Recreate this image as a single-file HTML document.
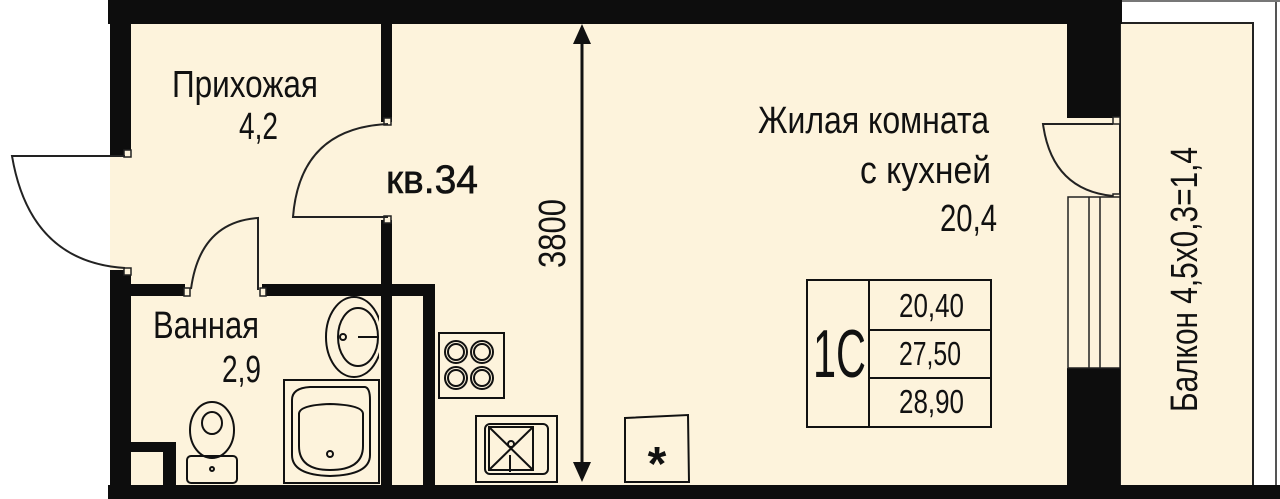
<!DOCTYPE html>
<html><head><meta charset="utf-8"><style>
html,body{margin:0;padding:0;background:#fff;}
svg{display:block;}
text{font-family:"Liberation Sans Narrow","Liberation Sans",sans-serif;fill:#111;}
</style></head><body>
<svg width="1280" height="499" viewBox="0 0 1280 499" xmlns="http://www.w3.org/2000/svg">
<defs><clipPath id="c1"><rect x="300" y="290" width="79" height="100"/></clipPath></defs>
<rect x="0" y="0" width="1280" height="499" fill="#fff"/>
<rect x="110" y="0" width="1012" height="499" fill="#fdf3dc"/>
<rect x="1120" y="0" width="160" height="499" fill="#fff"/>
<rect x="1120" y="23" width="133" height="465" fill="#fdf3dc" stroke="#222" stroke-width="2"/>
<rect x="1274" y="0" width="6" height="499" fill="#fff"/>
<line x1="1276" y1="0" x2="1276" y2="499" stroke="#555" stroke-width="2"/>
<line x1="1120" y1="1" x2="1280" y2="1" stroke="#777" stroke-width="2"/>
<g fill="#0d0d0d">
<rect x="108" y="0" width="1014" height="24"/>
<rect x="108" y="485" width="1172" height="14"/>
<rect x="110" y="0" width="21" height="155"/>
<rect x="110" y="270" width="21" height="229"/>
<rect x="1067" y="0" width="53" height="118"/>
<rect x="1067" y="368" width="53" height="120"/>
<rect x="381" y="0" width="11" height="122"/>
<rect x="381" y="220" width="11" height="270"/>
<rect x="131" y="284" width="54" height="12"/>
<rect x="262" y="284" width="173" height="12"/>
<rect x="423" y="284" width="12" height="205"/>
<rect x="131" y="442" width="45" height="10"/>
<rect x="163" y="442" width="13" height="50"/>
</g>
<g fill="#fdf3dc" stroke="#222" stroke-width="1.5">
<rect x="124" y="150" width="7" height="7"/>
<rect x="124" y="268" width="7" height="7"/>
<rect x="384" y="118" width="7" height="7"/>
<rect x="384" y="216" width="7" height="7"/>
<rect x="184" y="288" width="6" height="8"/>
<rect x="260" y="288" width="6" height="8"/>
<rect x="1113" y="117" width="7" height="7"/>
<rect x="1113" y="194" width="7" height="7"/>
</g>
<g fill="none" stroke="#222" stroke-width="2">
<path d="M125 156 L12 156 Q30 262 125 268"/>
<path d="M388 124 Q300 128 293 217 L388 217"/>
<path d="M258 290 L258 218 Q200 222 191 289"/>
<path d="M1113 124 L1043 124 Q1052 190 1113 196"/>
</g>
<g fill="#fdf3dc" stroke="#222" stroke-width="1.5">
<rect x="1068" y="197" width="52" height="171"/>
<line x1="1089" y1="197" x2="1089" y2="368"/>
<line x1="1100" y1="197" x2="1100" y2="368"/>
</g>
<line x1="582" y1="40" x2="582" y2="465" stroke="#111" stroke-width="3"/>
<polygon points="582,24 573,44 591,44" fill="#111"/>
<polygon points="582,482 573,462 591,462" fill="#111"/>
<g fill="none" stroke="#111" stroke-width="2">
<rect x="439" y="333" width="65" height="65"/>
<circle cx="456" cy="352" r="11"/><circle cx="456" cy="352" r="8"/>
<circle cx="482" cy="352" r="11"/><circle cx="482" cy="352" r="8"/>
<circle cx="456" cy="378" r="11"/><circle cx="456" cy="378" r="8"/>
<circle cx="482" cy="378" r="11"/><circle cx="482" cy="378" r="8"/>
<rect x="476" y="416" width="81" height="66"/>
<rect x="485" y="424" width="63" height="50" rx="5"/>
<rect x="489" y="427" width="44" height="43"/>
<line x1="489" y1="427" x2="533" y2="470"/><line x1="533" y1="427" x2="489" y2="470"/>
<circle cx="511" cy="444" r="3"/>
<line x1="510" y1="455" x2="510" y2="472"/>
<path d="M625 418 L688 415 L689 482 L625 482 Z"/>
<g clip-path="url(#c1)">
<ellipse cx="354" cy="337" rx="28" ry="40"/>
<ellipse cx="358" cy="337" rx="20" ry="29"/>
</g>
<line x1="358" y1="337" x2="377" y2="337"/>
<circle cx="343" cy="337" r="3"/>
<rect x="284" y="380" width="95" height="103"/>
<path d="M292 400 Q292 388 310 387 L365 387 Q370 388 370 400 L370 455 Q370 475 330 476 Q292 475 292 455 Z"/>
<path d="M299 414 Q299 405 330 404 Q363 405 363 414 L363 446 Q363 470 330 470 Q299 470 299 446 Z"/>
<circle cx="330" cy="454" r="3"/>
<ellipse cx="212" cy="430" rx="22" ry="28"/>
<ellipse cx="212" cy="423" rx="10" ry="11"/>
<rect x="187" y="456" width="50" height="27" rx="4"/>
<circle cx="212" cy="469" r="2"/>
</g>
<g fill="none" stroke="#111" stroke-width="2">
<rect x="807" y="280" width="184" height="147"/>
<line x1="869" y1="280" x2="869" y2="427"/>
<line x1="869" y1="330" x2="991" y2="330"/>
<line x1="869" y1="378" x2="991" y2="378"/>
</g>
<text x="172" y="97" font-size="38" textLength="146" lengthAdjust="spacingAndGlyphs">Прихожая</text>
<text x="239" y="139" font-size="38" textLength="39" lengthAdjust="spacingAndGlyphs">4,2</text>
<text x="386" y="193" font-size="40" textLength="92" lengthAdjust="spacingAndGlyphs" stroke="#111" stroke-width="0.6">кв.34</text>
<text transform="translate(565,268) rotate(-90)" font-size="38" textLength="69" lengthAdjust="spacingAndGlyphs">3800</text>
<text x="153" y="338" font-size="38" textLength="106" lengthAdjust="spacingAndGlyphs">Ванная</text>
<text x="222" y="382" font-size="38" textLength="39" lengthAdjust="spacingAndGlyphs">2,9</text>
<text x="758" y="133" font-size="38" textLength="231" lengthAdjust="spacingAndGlyphs">Жилая комната</text>
<text x="860" y="183" font-size="38" textLength="131" lengthAdjust="spacingAndGlyphs">с кухней</text>
<text x="940" y="231" font-size="38" textLength="57" lengthAdjust="spacingAndGlyphs">20,4</text>
<text x="813" y="377" font-size="68" textLength="53" lengthAdjust="spacingAndGlyphs">1С</text>
<text x="899" y="317" font-size="33" textLength="65" lengthAdjust="spacingAndGlyphs">20,40</text>
<text x="899" y="365" font-size="33" textLength="62" lengthAdjust="spacingAndGlyphs">27,50</text>
<text x="899" y="413" font-size="33" textLength="65" lengthAdjust="spacingAndGlyphs">28,90</text>
<text x="657" y="480" font-size="48" font-weight="bold" text-anchor="middle">*</text>
<text transform="translate(1197,412) rotate(-90)" font-size="38" textLength="265" lengthAdjust="spacingAndGlyphs">Балкон 4,5х0,3=1,4</text>
</svg>
</body></html>
